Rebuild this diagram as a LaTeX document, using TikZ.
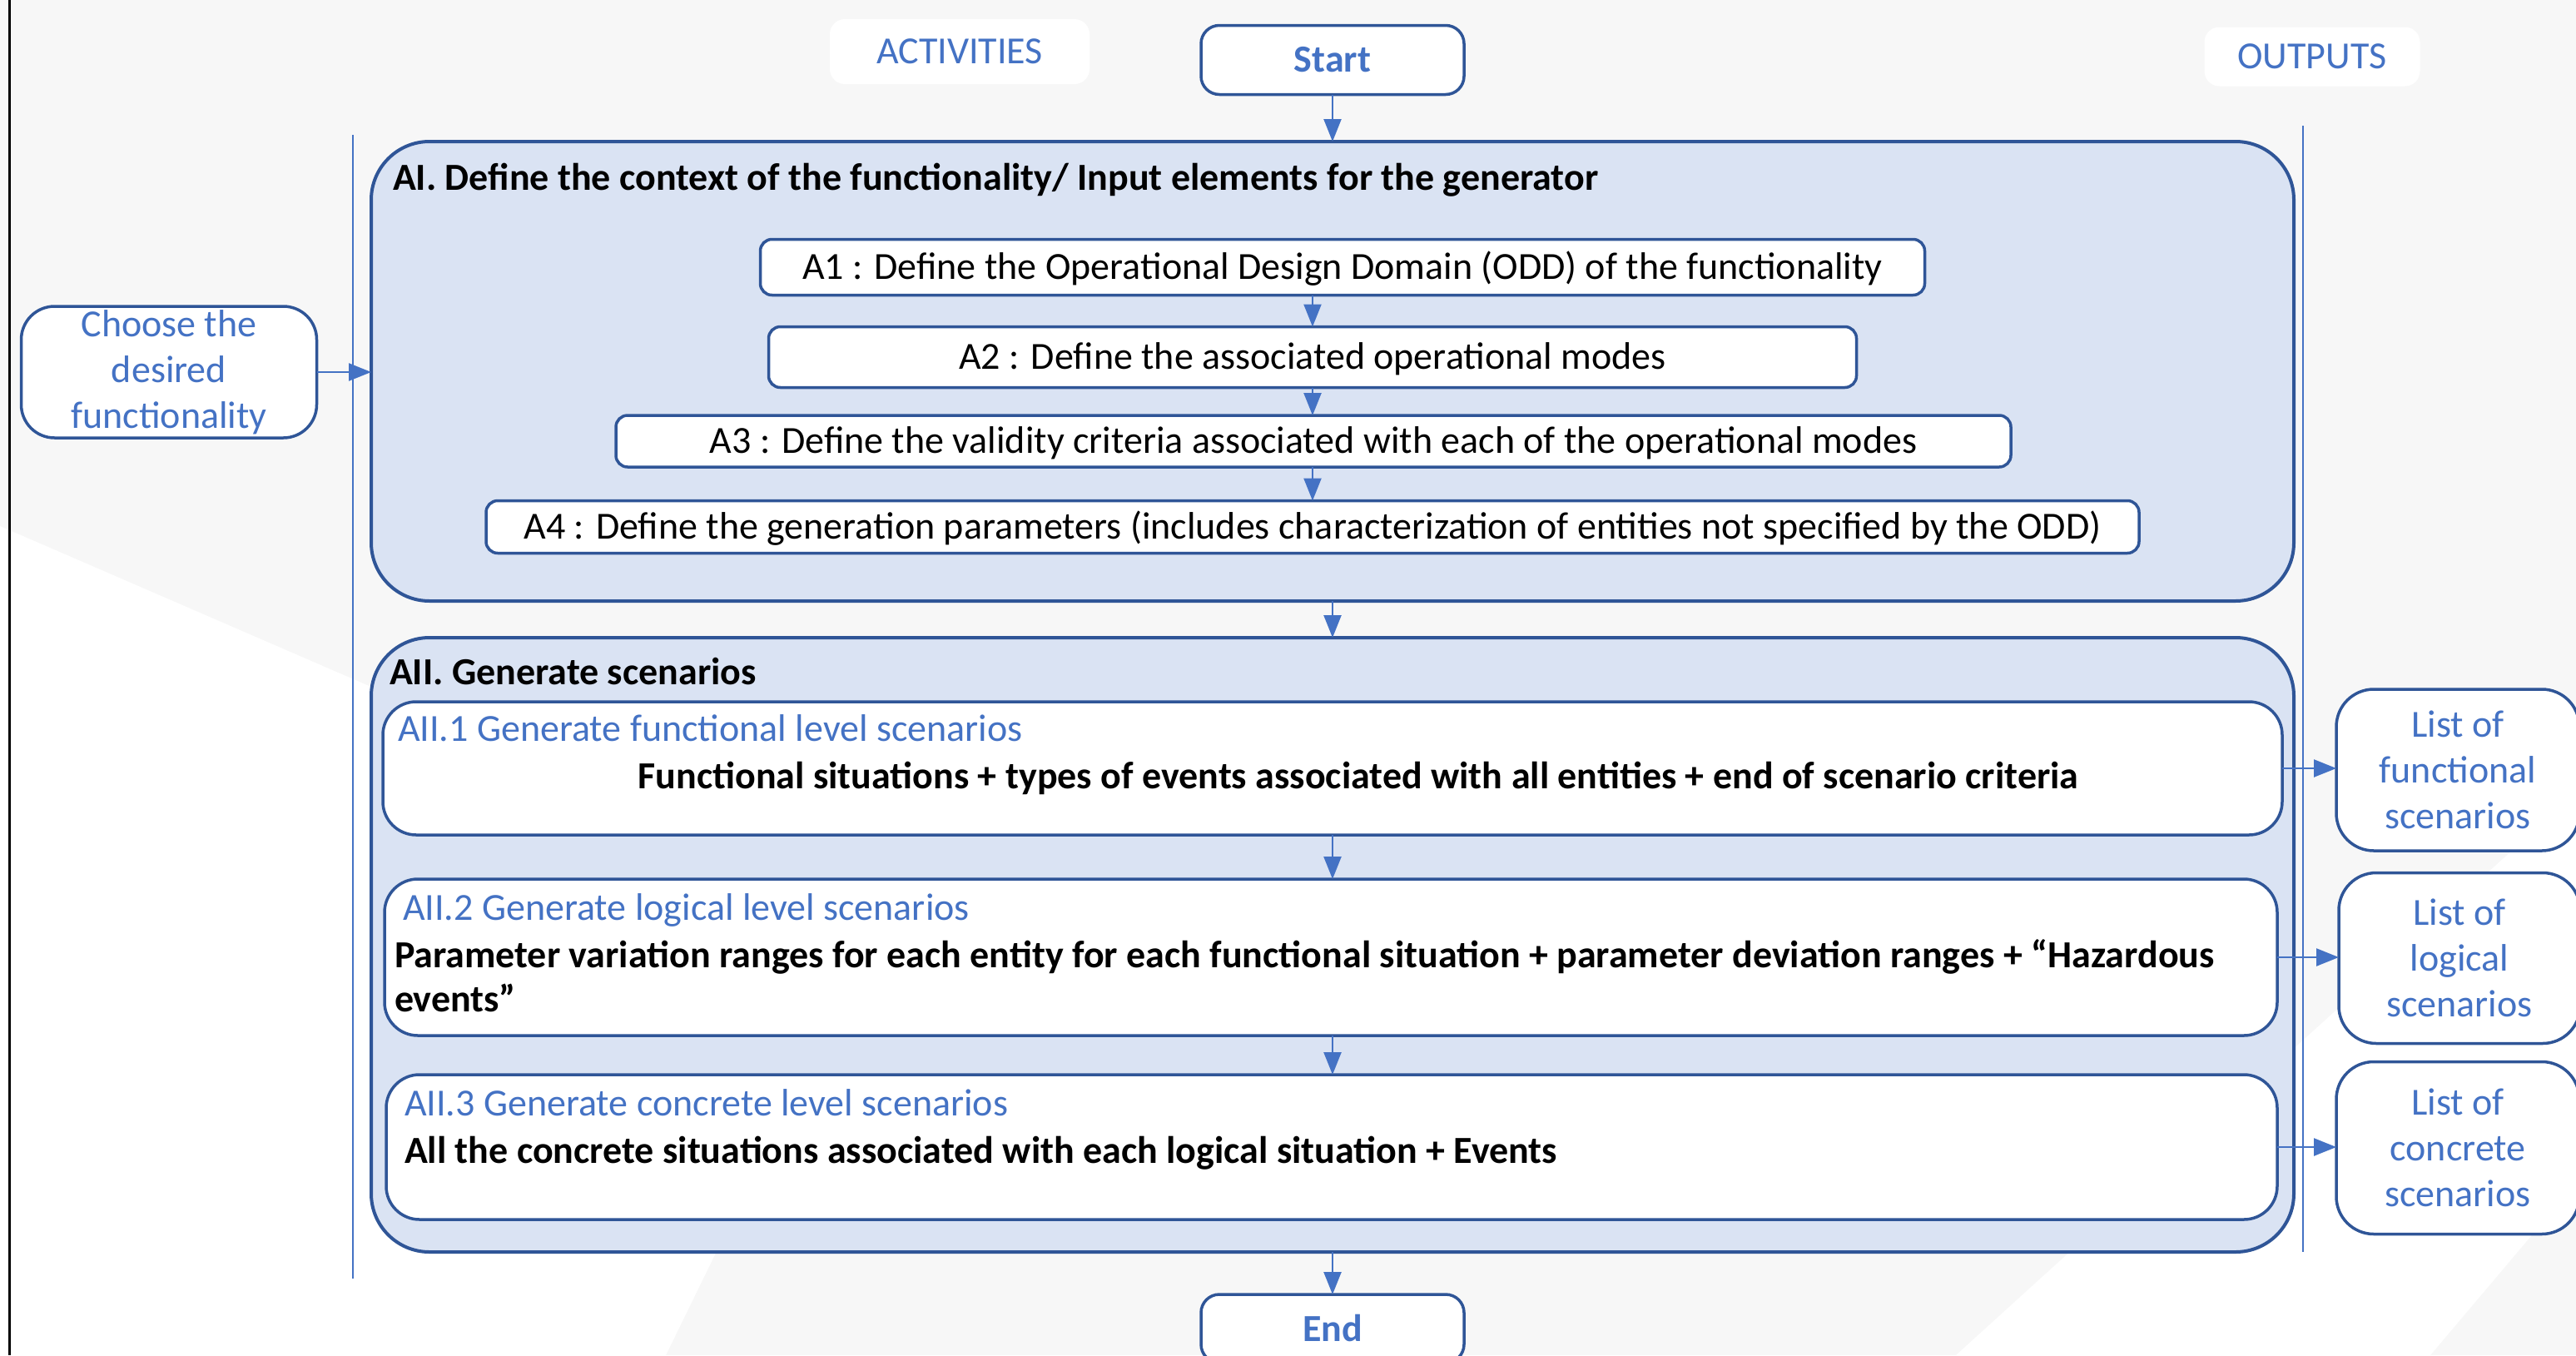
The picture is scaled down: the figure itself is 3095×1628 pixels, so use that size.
\documentclass[tikz,border=0pt]{standalone}
\usepackage{fontspec}
\setmainfont{Carlito}
\usetikzlibrary{arrows.meta}
\definecolor{bgGrey}{HTML}{F7F7F7}
\definecolor{paleBlue}{HTML}{DAE3F3}
\definecolor{edgeBlue}{HTML}{2F5597}
\definecolor{accentBlue}{HTML}{4472C4}
\newcommand\txtsize{\fontsize{46}{55}\selectfont}

\begin{document}
\begin{tikzpicture}[x=1pt,y=-1pt,
  every node/.style={inner sep=0pt, outer sep=0pt, font=\txtsize},
  panel/.style={draw=edgeBlue, line width=4pt, fill=paleBlue, rounded corners=70pt},
  stepbox/.style={draw=edgeBlue, line width=3.5pt, fill=white, rounded corners=14pt,
                  text height=34pt, text depth=6pt},
  levelbox/.style={draw=edgeBlue, line width=3.5pt, fill=white, rounded corners=40pt},
  sidebox/.style={draw=edgeBlue, line width=3.5pt, fill=white, rounded corners=45pt,
                  align=center, text=accentBlue},
  termbox/.style={draw=edgeBlue, line width=3.5pt, fill=white, rounded corners=22pt,
                  text=accentBlue, font=\txtsize\bfseries},
  headtag/.style={fill=white, rounded corners=18pt, text=accentBlue},
  paneltitle/.style={anchor=base west, font=\txtsize\bfseries},
  leveltitle/.style={anchor=base west, text=accentBlue},
  levelbody/.style={font=\txtsize\bfseries},
  lane/.style={draw=accentBlue, line width=2.5pt},
  flow/.style={draw=accentBlue, line width=2.4pt, -{Triangle[length=27pt,width=21pt]}},
]
% page frame and background
\path[use as bounding box] (0,0) rectangle (3095,1628);
\clip (0,0) rectangle (3095,1628);
\fill[bgGrey] (0,0) rectangle (3095,1628);
\fill[white] (0,632) -- (1062,1092) -- (800,1628) -- (0,1628) -- cycle;
\fill[white] (3095,952) -- (3095,1421) -- (2920,1628) -- (2350,1628) -- cycle;
\draw[black, line width=3pt] (11,0) -- (11,1628);

% swimlane separators
\coordinate (laneLtop) at (424,162);
\coordinate (laneLbot) at (424,1536);
\coordinate (laneRtop) at (2767,151);
\coordinate (laneRbot) at (2767,1504);
\draw[lane] (laneLtop) -- (laneLbot);
\draw[lane] (laneRtop) -- (laneRbot);

% column headings
\node[headtag, minimum width=312, minimum height=78] (activities) at (1153,62) {ACTIVITIES};
\node[headtag, minimum width=259, minimum height=71] (outputs) at (2778,68) {OUTPUTS};

% start / end
\node[termbox, minimum width=316, minimum height=83] (start) at (1601,72) {Start};
\node[termbox, minimum width=316, minimum height=82] (finish) at (1601,1596) {End};

% phase I
\node[panel, minimum width=2310, minimum height=552] (phaseI) at (1601,446) {};
\node[paneltitle] (phaseItitle) at (472,228)
  {AI. Define the context of the functionality/ Input elements for the generator};
\node[stepbox, minimum width=1399, minimum height=67] (a1) at (1613,321)
  {A1 : Define the Operational Design Domain (ODD) of the functionality};
\node[stepbox, minimum width=1307, minimum height=73] (a2) at (1577,429)
  {A2 : Define the associated operational modes};
\node[stepbox, minimum width=1676, minimum height=62] (a3) at (1578,530)
  {A3 : Define the validity criteria associated with each of the operational modes};
\node[stepbox, minimum width=1986, minimum height=63] (a4) at (1577,633)
  {A4 : Define the generation parameters (includes characterization of entities not specified by the ODD)};

% input
\node[sidebox, minimum width=355, minimum height=158, rounded corners=40pt] (choose) at (203,447)
  {Choose the\\desired\\functionality};

% phase II
\node[panel, minimum width=2310, minimum height=738] (phaseII) at (1601,1135) {};
\node[paneltitle] (phaseIItitle) at (468,822) {AII. Generate scenarios};

\node[levelbox, minimum width=2282, minimum height=160] (lvl1) at (1601,923) {};
\node[leveltitle] (lvl1title) at (478,890) {AII.1 Generate functional level scenarios};
\node[levelbody, anchor=base] (lvl1body) at (1632,947)
  {Functional situations + types of events associated with all entities + end of scenario criteria};

\node[levelbox, minimum width=2274, minimum height=188] (lvl2) at (1599,1150) {};
\node[leveltitle] (lvl2title) at (484,1105) {AII.2 Generate logical level scenarios};
\node[levelbody, anchor=base west] (lvl2body) at (474,1162)
  {Parameter variation ranges for each entity for each functional situation + parameter deviation ranges + “Hazardous};
\node[levelbody, anchor=base west] (lvl2bodyb) at (474,1215) {events”};

\node[levelbox, minimum width=2272, minimum height=174] (lvl3) at (1600,1378) {};
\node[leveltitle] (lvl3title) at (486,1340) {AII.3 Generate concrete level scenarios};
\node[levelbody, anchor=base west] (lvl3body) at (486,1397)
  {All the concrete situations associated with each logical situation + Events};

% outputs
\node[sidebox, minimum width=292, minimum height=194] (out1) at (2953,925)
  {List of\\functional\\scenarios};
\node[sidebox, minimum width=290, minimum height=205] (out2) at (2955,1151)
  {List of\\logical\\scenarios};
\node[sidebox, minimum width=292, minimum height=207] (out3) at (2953,1379)
  {List of\\concrete\\scenarios};

% connectors
\draw[flow] (start.south) -- (phaseI.north);
\draw[flow] (a2.north |- a1.south) -- (a2.north);
\draw[flow] (a2.south) -- (a3.north -| a2.south);
\draw[flow] (a3.south -| a2.south) -- (a4.north -| a2.south);
\draw[flow] (choose.east) -- (choose.east -| phaseI.west);
\draw[flow] (phaseI.south) -- (phaseII.north);
\draw[flow] (lvl1.south) -- (lvl2.north -| lvl1.south);
\draw[flow] (lvl2.south -| lvl1.south) -- (lvl3.north -| lvl1.south);
\draw[flow] (phaseII.south) -- (finish.north);
\draw[flow] (lvl1.east) -- (lvl1.east -| out1.west);
\draw[flow] (lvl2.east) -- (lvl2.east -| out2.west);
\draw[flow] (lvl3.east) -- (lvl3.east -| out3.west);
\end{tikzpicture}
\end{document}
